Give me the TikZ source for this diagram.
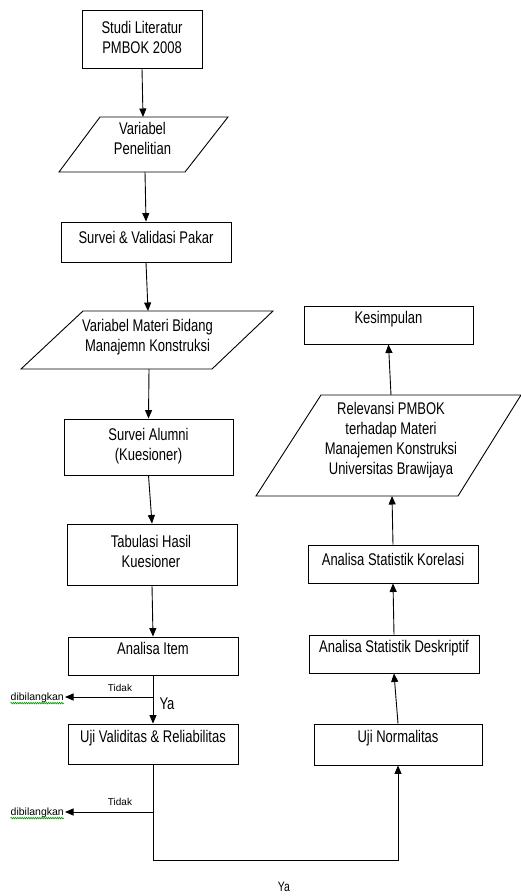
\documentclass[tikz,border=0pt]{standalone}
\usepackage{fontspec}
\setmainfont{Liberation Sans}
\usetikzlibrary{arrows.meta,decorations.pathmorphing}
\newcommand{\vtx}[1]{\scalebox{1}[1.3]{#1}}
\begin{document}
\begin{tikzpicture}[x=1pt,y=-1pt,
 box/.style={draw,line width=0.9pt,rectangle,inner sep=0pt},
 txt/.style={font=\fontsize{13}{20}\selectfont,align=center,inner sep=0pt},
 tip/.style={-{Triangle[length=8.5pt,width=7pt]}},
 arr/.style={line width=0.9pt,tip},
 ln/.style={line width=0.9pt,line join=miter},
 small/.style={font=\fontsize{10}{11}\selectfont,inner sep=0pt},
 skip/.style={font=\fontsize{10.5}{11}\selectfont,inner sep=0pt,anchor=east},
 wavy/.style={draw=green!60!black,line width=0.6pt,decorate,decoration={snake,amplitude=0.8pt,segment length=2.2pt}},
]
\useasboundingbox (0,0) rectangle (521,896);
% left column
\node[box,minimum width=120pt,minimum height=58pt] (b1) at (142,39) {};
\node[txt] (t1) at (142,37) {\vtx{Studi Literatur}\\\vtx{PMBOK 2008}};

\draw[ln] (100,117) -- (228,117) -- (185,172) -- (59,172) -- cycle;
\coordinate (p1n) at (143,117);
\coordinate (p1s) at (145,172);
\node[txt] (t2) at (142.5,138) {\vtx{Variabel}\\\vtx{Penelitian}};

\node[box,minimum width=170pt,minimum height=40pt] (b3) at (146,242) {};
\node[txt] (t3) at (146,237) {\vtx{Survei \& Validasi Pakar}};

\draw[ln] (83,311) -- (273,311) -- (212,369) -- (21,369) -- cycle;
\coordinate (p2n) at (148,311);
\coordinate (p2s) at (149,369);
\node[txt] (t4) at (147.5,337.5) {\vtx{Variabel Materi Bidang}\\\vtx{Manajemn Konstruksi}};

\node[box,minimum width=169pt,minimum height=56pt] (b4) at (148.5,447) {};
\node[txt] (t5) at (148.5,446) {\vtx{Survei Alumni}\\\vtx{(Kuesioner)}};

\node[box,minimum width=170pt,minimum height=61pt] (b5) at (152,554.5) {};
\node[txt] (t6) at (151,551.5) {\vtx{Tabulasi Hasil}\\\vtx{Kuesioner}};

\node[box,minimum width=170pt,minimum height=38pt] (b6) at (153,656) {};
\node[txt] (t7) at (153,648) {\vtx{Analisa Item}};

\node[box,minimum width=170pt,minimum height=40pt] (b7) at (153,744) {};
\node[txt] (t8) at (153,738) {\vtx{Uji Validitas \& Reliabilitas}};

% right column
\node[box,minimum width=168pt,minimum height=41pt] (b8) at (398,744.5) {};
\node[txt] (t9) at (398,738) {\vtx{Uji Normalitas}};

\node[box,minimum width=170pt,minimum height=38pt] (b9) at (394,654) {};
\node[txt] (t10) at (394,648) {\vtx{Analisa Statistik Deskriptif}};

\node[box,minimum width=170pt,minimum height=38pt] (b10) at (393,564) {};
\node[txt] (t11) at (393,559) {\vtx{Analisa Statistik Korelasi}};

\draw[ln] (321,395) -- (521,395) -- (458,496) -- (256,496) -- cycle;
\coordinate (p3n) at (391,395);
\coordinate (p3s) at (392,496);
\node[txt] (t12) at (391,440) {\vtx{Relevansi PMBOK}\\\vtx{terhadap Materi}\\\vtx{Manajemen Konstruksi}\\\vtx{Universitas Brawijaya}};

\node[box,minimum width=169pt,minimum height=38pt] (b11) at (388.5,325) {};
\node[txt] (t13) at (388.5,319) {\vtx{Kesimpulan}};

% connectors
\draw[arr] (b1.south) -- (p1n);
\draw[arr] (p1s) -- (b3.north);
\draw[arr] (b3.south) -- (p2n);
\draw[arr] (p2s) -- (b4.north);
\draw[arr] (b4.south) -- (b5.north);
\draw[arr] (b5.south) -- (b6.north);
\draw[arr] (b6.south) -- (b7.north);

\node[skip] (d1) at (64,698) {dibilangkan};
\node[skip] (d2) at (64,813) {dibilangkan};
\draw[wavy] (d1.south west) -- (d1.south east);
\draw[wavy] (d2.south west) -- (d2.south east);

\coordinate (j1) at (153,697);
\coordinate (j2) at (153,812);
\draw[arr] (j1) -- ([xshift=1pt]d1.east |- j1);
\draw[arr] (j2) -- ([xshift=1pt]d2.east |- j2);
\node[small] (l1) at (120,688) {Tidak};
\node[small] (l2) at (120,802) {Tidak};
\node[txt] (l3) at (167,704) {\vtx{Ya}};

\coordinate (c1) at (153,860);
\coordinate (c2) at (398,860);
\draw[ln,tip] (b7.south) -- (c1) -- (c2) -- (b8.south);
\node[font=\fontsize{10.5}{11}\selectfont,inner sep=0pt] (l4) at (284,887) {\vtx{Ya}};

\draw[arr] (b8.north) -- (b9.south);
\draw[arr] (b9.north) -- (b10.south);
\draw[arr] (b10.north) -- (p3s);
\draw[arr] (p3n) -- (b11.south);
\end{tikzpicture}
\end{document}
